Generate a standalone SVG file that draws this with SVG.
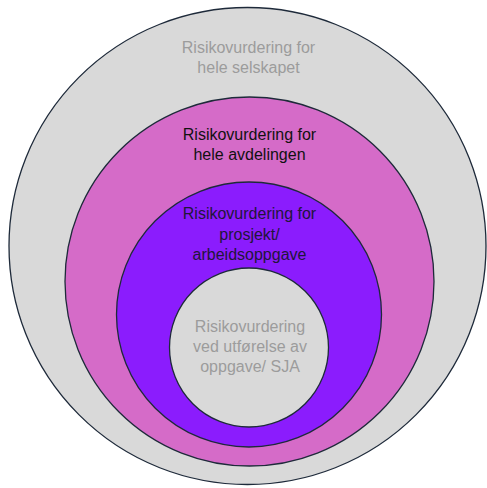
<svg xmlns="http://www.w3.org/2000/svg" width="487" height="488" viewBox="0 0 487 488">
  <style>
    .ring { stroke: #1e2a3a; stroke-width: 1.3; }
    .lbl { font-family: "Liberation Sans", Arial, sans-serif; font-size: 16px; text-anchor: middle; }
    .grey { fill: #9c9c9c; }
    .dark { fill: #111111; }
    .deep { fill: #22163a; }
  </style>
  <rect width="487" height="488" fill="#ffffff"/>
  <g id="selskap">
    <circle class="ring" cx="247.5" cy="246" r="238.5" fill="#d9d9d9"/>
    <text class="lbl grey" x="248.5" y="53">Risikovurdering for</text>
    <text class="lbl grey" x="248.5" y="73">hele selskapet</text>
  </g>
  <g id="avdeling">
    <circle class="ring" cx="249.5" cy="281.5" r="184.5" fill="#d56bc8"/>
    <text class="lbl dark" x="249.5" y="140">Risikovurdering for</text>
    <text class="lbl dark" x="249.5" y="160">hele avdelingen</text>
  </g>
  <g id="prosjekt">
    <circle class="ring" cx="249" cy="314.5" r="132.5" fill="#8b1cfd"/>
    <text class="lbl deep" x="249.5" y="219">Risikovurdering for</text>
    <text class="lbl deep" x="249.5" y="240">prosjekt/</text>
    <text class="lbl deep" x="249.5" y="260">arbeidsoppgave</text>
  </g>
  <g id="sja">
    <circle class="ring" cx="249" cy="347.5" r="79.5" fill="#d9d9d9"/>
    <text class="lbl grey" x="250" y="332">Risikovurdering</text>
    <text class="lbl grey" x="250" y="352">ved utførelse av</text>
    <text class="lbl grey" x="250" y="372">oppgave/ SJA</text>
  </g>
  <g id="connectors"/>
</svg>
